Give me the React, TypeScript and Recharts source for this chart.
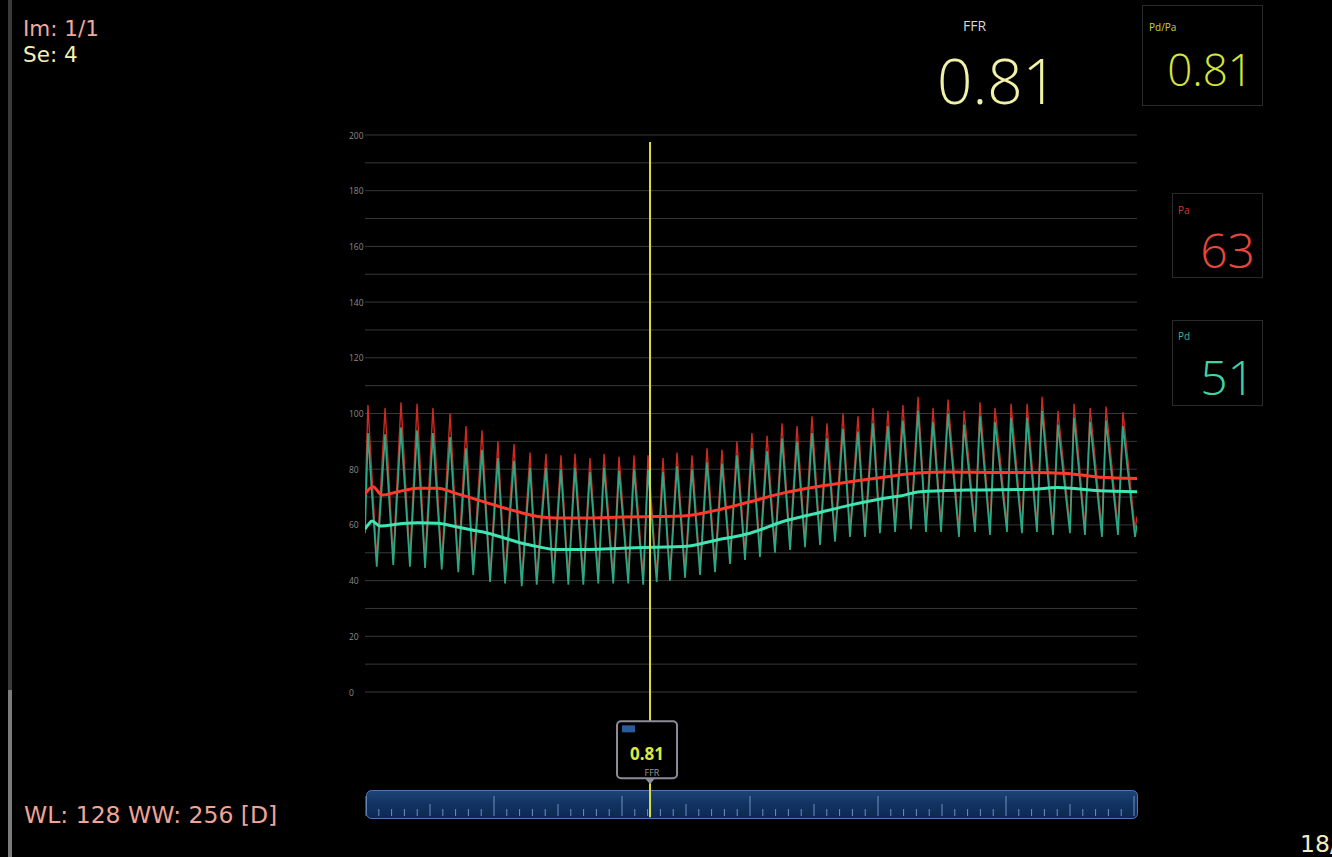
import React from 'react'
import { LineChart, Line, XAxis, YAxis, CartesianGrid, ReferenceLine } from 'recharts'

const W = 1332
const H = 857
const FONT = "'Open Sans', 'DejaVu Sans', sans-serif"
const OVERLAY_FONT = "'DejaVu Sans', sans-serif"

// time axis in seconds, pressures in mmHg
const T_END = 50
const Y_TICKS = [0, 10, 20, 30, 40, 50, 60, 70, 80, 90, 100, 110, 120, 130, 140, 150, 160, 170, 180, 190, 200]

const PEAK_T = [0.19, 1.3, 2.33, 3.37, 4.4, 5.51, 6.54, 7.58, 8.61, 9.65, 10.69, 11.72, 12.69, 13.6, 14.57, 15.48, 16.45, 17.42, 18.33, 19.3, 20.21, 21.18, 22.15, 23.12, 24.09, 25.06, 26.04, 27.01, 27.98, 28.95, 29.92, 30.96, 31.93, 32.9, 33.87, 34.84, 35.82, 36.79, 37.76, 38.8, 39.83, 40.8, 41.84, 42.88, 43.85, 44.88, 45.92, 46.96, 47.99, 49.09]
const TROUGH_T = [0.76, 1.83, 2.91, 3.89, 4.97, 6.04, 7.01, 8.1, 9.07, 10.15, 11.12, 12.2, 13.17, 14.14, 15.11, 16.08, 17.05, 18.02, 18.89, 19.75, 20.73, 21.7, 22.67, 23.64, 24.61, 25.58, 26.55, 27.53, 28.5, 29.47, 30.44, 31.41, 32.38, 33.35, 34.33, 35.36, 36.33, 37.31, 38.47, 39.51, 40.48, 41.58, 42.55, 43.52, 44.56, 45.66, 46.63, 47.73, 48.77, 49.87]

const PA_PEAK = [103, 102, 104, 103.5, 102, 100, 95.5, 94, 90, 89, 86, 85.5, 85, 85.5, 84, 85.5, 84.5, 85, 85, 84, 86, 85, 87.5, 87, 90, 93, 92, 96.5, 95.5, 99, 96.5, 100, 99, 102, 101, 103, 106, 102, 105, 101, 104, 102, 103.5, 103.5, 106, 101, 103.5, 102, 102.5, 100.5]
const PA_TROUGH = [47.5, 48, 47.5, 47, 46.5, 45.5, 44.5, 42, 41.5, 40.5, 41, 41.5, 41, 41, 41.5, 41.5, 41.5, 41, 42, 42.5, 43.5, 44.5, 45.5, 48.5, 50, 51, 52.5, 53.5, 54.5, 55.5, 56.5, 58, 58, 59.5, 60, 61, 60, 60, 58.5, 60, 59, 60, 59.5, 60, 59, 59.5, 59, 58.5, 59, 58.5]
const PD_PEAK = [93, 92.5, 95, 94, 93, 91.5, 87.5, 87, 84, 83, 80.5, 80.5, 80, 80.5, 79, 80.5, 79.5, 80, 80, 79, 81, 80, 82.5, 82, 85, 87.5, 86.5, 91, 90, 93, 91, 94.5, 93.5, 96.5, 95.5, 97.5, 101, 97, 100, 96, 99, 97, 98.5, 98.5, 101, 96, 98.5, 97, 97.5, 95.5]
const PD_TROUGH = [45, 45.6, 45, 44.5, 44, 43, 42, 39.5, 39, 38, 38.5, 39, 38.5, 38.5, 39, 39, 39, 38.5, 39.5, 40, 41, 42, 43, 46, 47.4, 48.5, 50, 51, 52, 52.8, 54, 55.7, 55.7, 57, 57.5, 58.5, 57.5, 57.5, 55.7, 57.5, 56.4, 57.5, 57, 57.5, 56.4, 57, 56.4, 55.7, 56.4, 55.7]
const PA_EDGES = [68, 63]
const PD_EDGES = [57, 60]

const PA_MEAN_T = [0, 0.2, 0.52, 1.1, 2.14, 3.43, 4.73, 5.83, 6.93, 7.97, 9.07, 10.17, 11.2, 12.31, 14.44, 16.65, 18.78, 20.6, 22.8, 24.94, 27.07, 29.27, 31.41, 33.55, 35.75, 37.89, 41.13, 43.26, 45.47, 47.6, 50]
const PA_MEAN = [71, 72.5, 73.7, 70.7, 71.9, 73.2, 73.2, 71.4, 69.6, 67.8, 66, 64.3, 63, 62.5, 62.5, 62.8, 63, 63.2, 65.3, 68.3, 71.4, 73.7, 75.5, 77.1, 78.6, 79, 78.8, 78.8, 78.5, 77.1, 76.7]
const PD_MEAN_T = [0, 0.2, 0.45, 0.97, 2.4, 3.43, 4.73, 5.83, 6.93, 7.97, 9.07, 10.17, 11.2, 12.31, 14.44, 16.65, 18.78, 20.6, 22.8, 24.94, 27.07, 29.27, 31.41, 33.55, 34.65, 35.95, 38.99, 43.26, 44.82, 47.6, 50]
const PD_MEAN = [58.5, 60, 61.4, 59.6, 60.5, 60.8, 60.6, 59.4, 58.2, 57, 55.2, 53.4, 52.2, 51.2, 51.2, 51.6, 52, 52.2, 54.6, 57, 61.2, 64.2, 67.1, 69.5, 70.4, 71.9, 72.5, 72.8, 73.4, 72.3, 71.9]

const CURSOR_T = 18.46
const FFR_VALUE = '0.81'
const PA_VALUE = '63'
const PD_VALUE = '51'

type Pt = { t: number; v: number }

function buildWave(peaks: number[], troughs: number[], edges: number[]): Pt[] {
  const out: Pt[] = [{ t: 0, v: edges[0] }]
  PEAK_T.forEach((t, i) => {
    out.push({ t, v: peaks[i] })
    out.push({ t: TROUGH_T[i], v: troughs[i] })
  })
  out.push({ t: T_END, v: edges[1] })
  return out
}

const zip = (ts: number[], vs: number[]): Pt[] => ts.map((t, i) => ({ t, v: vs[i] }))

const paWave = buildWave(PA_PEAK, PA_TROUGH, PA_EDGES)
const pdWave = buildWave(PD_PEAK, PD_TROUGH, PD_EDGES)
const paMean = zip(PA_MEAN_T, PA_MEAN)
const pdMean = zip(PD_MEAN_T, PD_MEAN)

const YTick = ({ x, y, payload }: any) => {
  if (payload.value % 20 !== 0) return <g />
  return (
    <text x={x} y={y} fill="#8a8a8a" fontSize={8.5} fontFamily={FONT} textAnchor="start" dominantBaseline="central">
      {payload.value}
    </text>
  )
}

// FFR marker that sits on the cursor line, above the time bar
const CursorMarker = ({ viewBox }: any) => {
  if (!viewBox) return <g />
  const cx = viewBox.x
  const top = viewBox.y + viewBox.height - 96
  return (
    <g>
      <rect x={cx - 33} y={top} width={60} height={57} rx={4} fill="#000" stroke="#8c8c9a" strokeWidth={2} />
      <rect x={cx - 28} y={top + 4} width={13} height={7} fill="#2c5b9a" />
      <text x={cx - 3} y={top + 39} textAnchor="middle" fill="#dbe842" fontSize={17} fontWeight={700} fontFamily={FONT}>
        {FFR_VALUE}
      </text>
      <text x={cx + 2} y={top + 55} textAnchor="middle" fill="#9a9a9a" fontSize={9} fontFamily={FONT}>
        FFR
      </text>
      <path d={`M${cx - 5},${top + 57} L${cx},${top + 63} L${cx + 5},${top + 57} Z`} fill="#8c8c9a" />
    </g>
  )
}

function TimeBar() {
  const ticks = []
  for (let i = 0; i <= 60; i++) {
    const x = 366 + i * 12.8
    const y1 = i % 10 === 0 ? 796 : i % 5 === 0 ? 804 : 809
    ticks.push(<line key={i} x1={x} x2={x} y1={y1} y2={816} stroke="#6f8fc4" strokeWidth={1} />)
  }
  return (
    <g>
      <defs>
        <linearGradient id="barFill" x1="0" y1="0" x2="0" y2="1">
          <stop offset="0" stopColor="#1d4578" />
          <stop offset="0.45" stopColor="#123463" />
          <stop offset="1" stopColor="#0c2852" />
        </linearGradient>
      </defs>
      <rect x={366.5} y={790.5} width={771} height={28} rx={5} fill="url(#barFill)" stroke="#5276b0" />
      {ticks}
    </g>
  )
}

function Chrome() {
  return (
    <svg width={W} height={H} style={{ position: 'absolute', left: 0, top: 0 }}>
      <rect x={8} y={0} width={4} height={690} fill="#3a3a3a" />
      <rect x={8} y={690} width={4} height={167} fill="#7c7c7c" />
      <g fontFamily={OVERLAY_FONT}>
        <text x={23} y={36} fontSize={21.5} fill="#efaa9e">Im: 1/1</text>
        <text x={23} y={62} fontSize={21.5} fill="#f3efb6">Se: 4</text>
        <text x={24} y={823} fontSize={23.5} fill="#eea596">WL: 128 WW: 256 [D]</text>
        <text x={1300} y={852} fontSize={23.5} fill="#f2ecc0">18/0</text>
      </g>
      <g fontFamily={FONT}>
        <text x={963} y={31} fontSize={14} fill="#d6d6d6">FFR</text>
        <text x={937} y={104} fontSize={62} fontWeight={300} fill="#f1f1a8">{FFR_VALUE}</text>

        <rect x={1142.5} y={5.5} width={120} height={100} fill="none" stroke="#2a2a2a" />
        <text x={1149} y={31} fontSize={10} fill="#c6d640">Pd/Pa</text>
        <text x={1253} y={86} fontSize={44} fontWeight={300} textAnchor="end" fill="#d4e63a">{FFR_VALUE}</text>

        <rect x={1172.5} y={193.5} width={90} height={84} fill="none" stroke="#2a2a2a" />
        <text x={1178} y={214} fontSize={10} fill="#cf3a2c">Pa</text>
        <text x={1255} y={268} fontSize={48} fontWeight={300} textAnchor="end" fill="#e8473a">{PA_VALUE}</text>

        <rect x={1172.5} y={320.5} width={90} height={85} fill="none" stroke="#2a2a2a" />
        <text x={1178} y={340} fontSize={10} fill="#3ab894">Pd</text>
        <text x={1255} y={395} fontSize={48} fontWeight={300} textAnchor="end" fill="#3fd4a6">{PD_VALUE}</text>
      </g>
      <TimeBar />
    </svg>
  )
}

export default function App() {
  return (
    <div style={{ position: 'fixed', left: 0, top: 0, width: W, height: H, background: '#000', overflow: 'hidden' }}>
      <Chrome />
      <div style={{ position: 'absolute', left: 0, top: 0 }}>
        <LineChart width={W} height={H} margin={{ top: 135, right: 195, bottom: 165, left: 345 }}>
          <CartesianGrid vertical={false} stroke="#383838" strokeWidth={1} />
          <XAxis type="number" dataKey="t" domain={[0, T_END]} hide allowDataOverflow />
          <YAxis
            type="number"
            domain={[0, 200]}
            ticks={Y_TICKS}
            width={20}
            axisLine={false}
            tickLine={false}
            tickSize={0}
            tickMargin={16}
            tick={<YTick />}
            interval={0}
          />
          <Line data={paWave} dataKey="v" type="linear" stroke="#cc2a1e" strokeWidth={1.4} dot={false} isAnimationActive={false} />
          <Line data={pdWave} dataKey="v" type="linear" stroke="#2ca886" strokeWidth={1.7} dot={false} isAnimationActive={false} />
          <Line data={paMean} dataKey="v" type="monotone" stroke="#ff3a2c" strokeWidth={3} dot={false} isAnimationActive={false} />
          <Line data={pdMean} dataKey="v" type="monotone" stroke="#3fe6b4" strokeWidth={3} dot={false} isAnimationActive={false} />
          <ReferenceLine
            segment={[{ x: CURSOR_T, y: 197.5 }, { x: CURSOR_T, y: -45 }]}
            stroke="#d6df3e"
            strokeWidth={2}
            ifOverflow="visible"
            label={<CursorMarker />}
          />
        </LineChart>
      </div>
    </div>
  )
}
